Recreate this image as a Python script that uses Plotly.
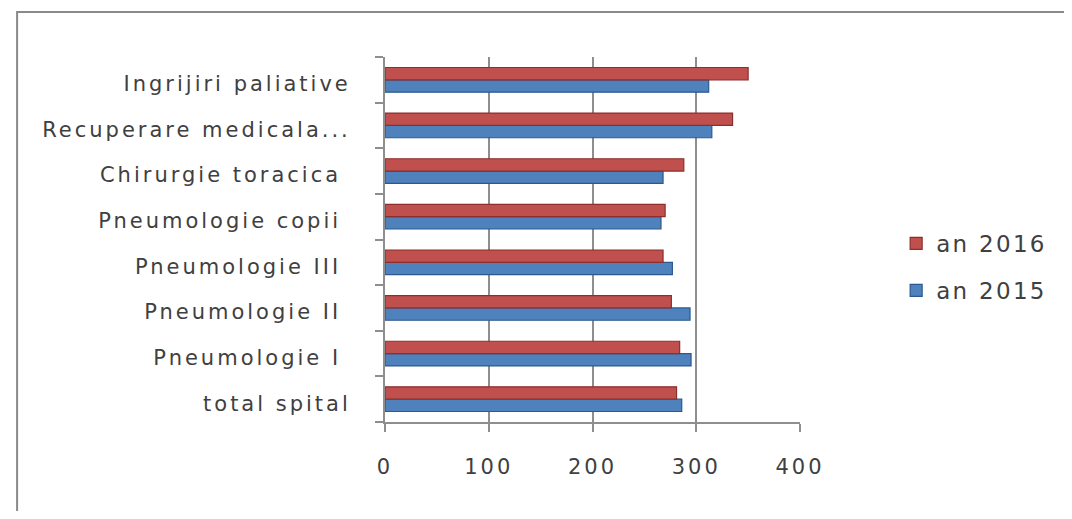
import plotly.graph_objects as go

categories = ["total spital", "Pneumologie I ", "Pneumologie II ", "Pneumologie III ",
              "Pneumologie copii ", "Chirurgie toracica ", "Recuperare medicala...",
              "Ingrijiri paliative"]
an_2015 = [286, 295, 294, 277, 266, 268, 315, 312]
an_2016 = [281, 284, 276, 268, 270, 288, 335, 350]
x_ticks = [0, 100, 200, 300, 400]

# page has an 8px body margin, so the figure is a bit smaller than the window
W, H = 1056, 503
L, R, T, B = 377, 256, 49, 89
pw, ph = W - L - R, H - T - B

def px(x):
    return (x - 8 - L) / pw

def py(y):
    return (H - B - (y - 8)) / ph

def wide(s, sp):
    return "<span style='letter-spacing:%spx'>%s</span>" % (sp, s)

fig = go.Figure()
fig.add_trace(go.Bar(
    y=categories, x=an_2015, orientation="h", name=wide("an 2015", 2.3),
    legendgroup="a", legendrank=2,
    marker=dict(color="#4F81BD", line=dict(color="#2C5A8F", width=1.2)),
))
fig.add_trace(go.Bar(
    y=categories, x=an_2016, orientation="h", name=wide("an 2016", 2.3),
    legendgroup="b", legendrank=1,
    marker=dict(color="#C0504D", line=dict(color="#8C2F2C", width=1.2)),
))

font_fam = "'DejaVu Sans', sans-serif"
fig.update_layout(
    width=W, height=H,
    margin=dict(l=L, r=R, t=T, b=B, pad=0),
    paper_bgcolor="white", plot_bgcolor="white",
    barmode="group", bargap=0.46, bargroupgap=0.0,
    font=dict(family=font_fam, color="#404040", size=20),
    xaxis=dict(
        range=[0, 400], tickvals=x_ticks, ticktext=[wide(str(v), 3) for v in x_ticks],
        showgrid=True, gridcolor="#8E8E8E", gridwidth=2,
        showline=True, linecolor="#8E8E8E", linewidth=2,
        ticks="outside", ticklen=8, tickcolor="#8E8E8E", tickwidth=2,
        tickfont=dict(size=21, color="#404040"), ticklabelstandoff=17,
        zeroline=False, fixedrange=True,
    ),
    yaxis=dict(
        categoryorder="array", categoryarray=categories,
        tickvals=categories, ticktext=[wide(c, 3) for c in categories],
        showline=True, linecolor="#8E8E8E", linewidth=2,
        ticks="outside", ticklen=8, tickcolor="#8E8E8E", tickwidth=2,
        tickson="boundaries", ticklabelstandoff=28, ticklabelshift=4,
        tickfont=dict(size=21, color="#404040"),
        showgrid=False, fixedrange=True,
    ),
    legend=dict(
        x=px(906), y=py(222), xanchor="left", yanchor="top",
        traceorder="grouped", tracegroupgap=14,
        font=dict(size=23, color="#404040"),
        bgcolor="rgba(0,0,0,0)", itemwidth=30,
    ),
    shapes=[
        dict(type="rect", xref="paper", yref="paper",
             x0=px(10), x1=px(1080), y0=py(516), y1=py(12),
             line=dict(color="#8A8A8A", width=2), fillcolor="rgba(0,0,0,0)",
             layer="below"),
    ],
)

fig.write_html("out.html")
